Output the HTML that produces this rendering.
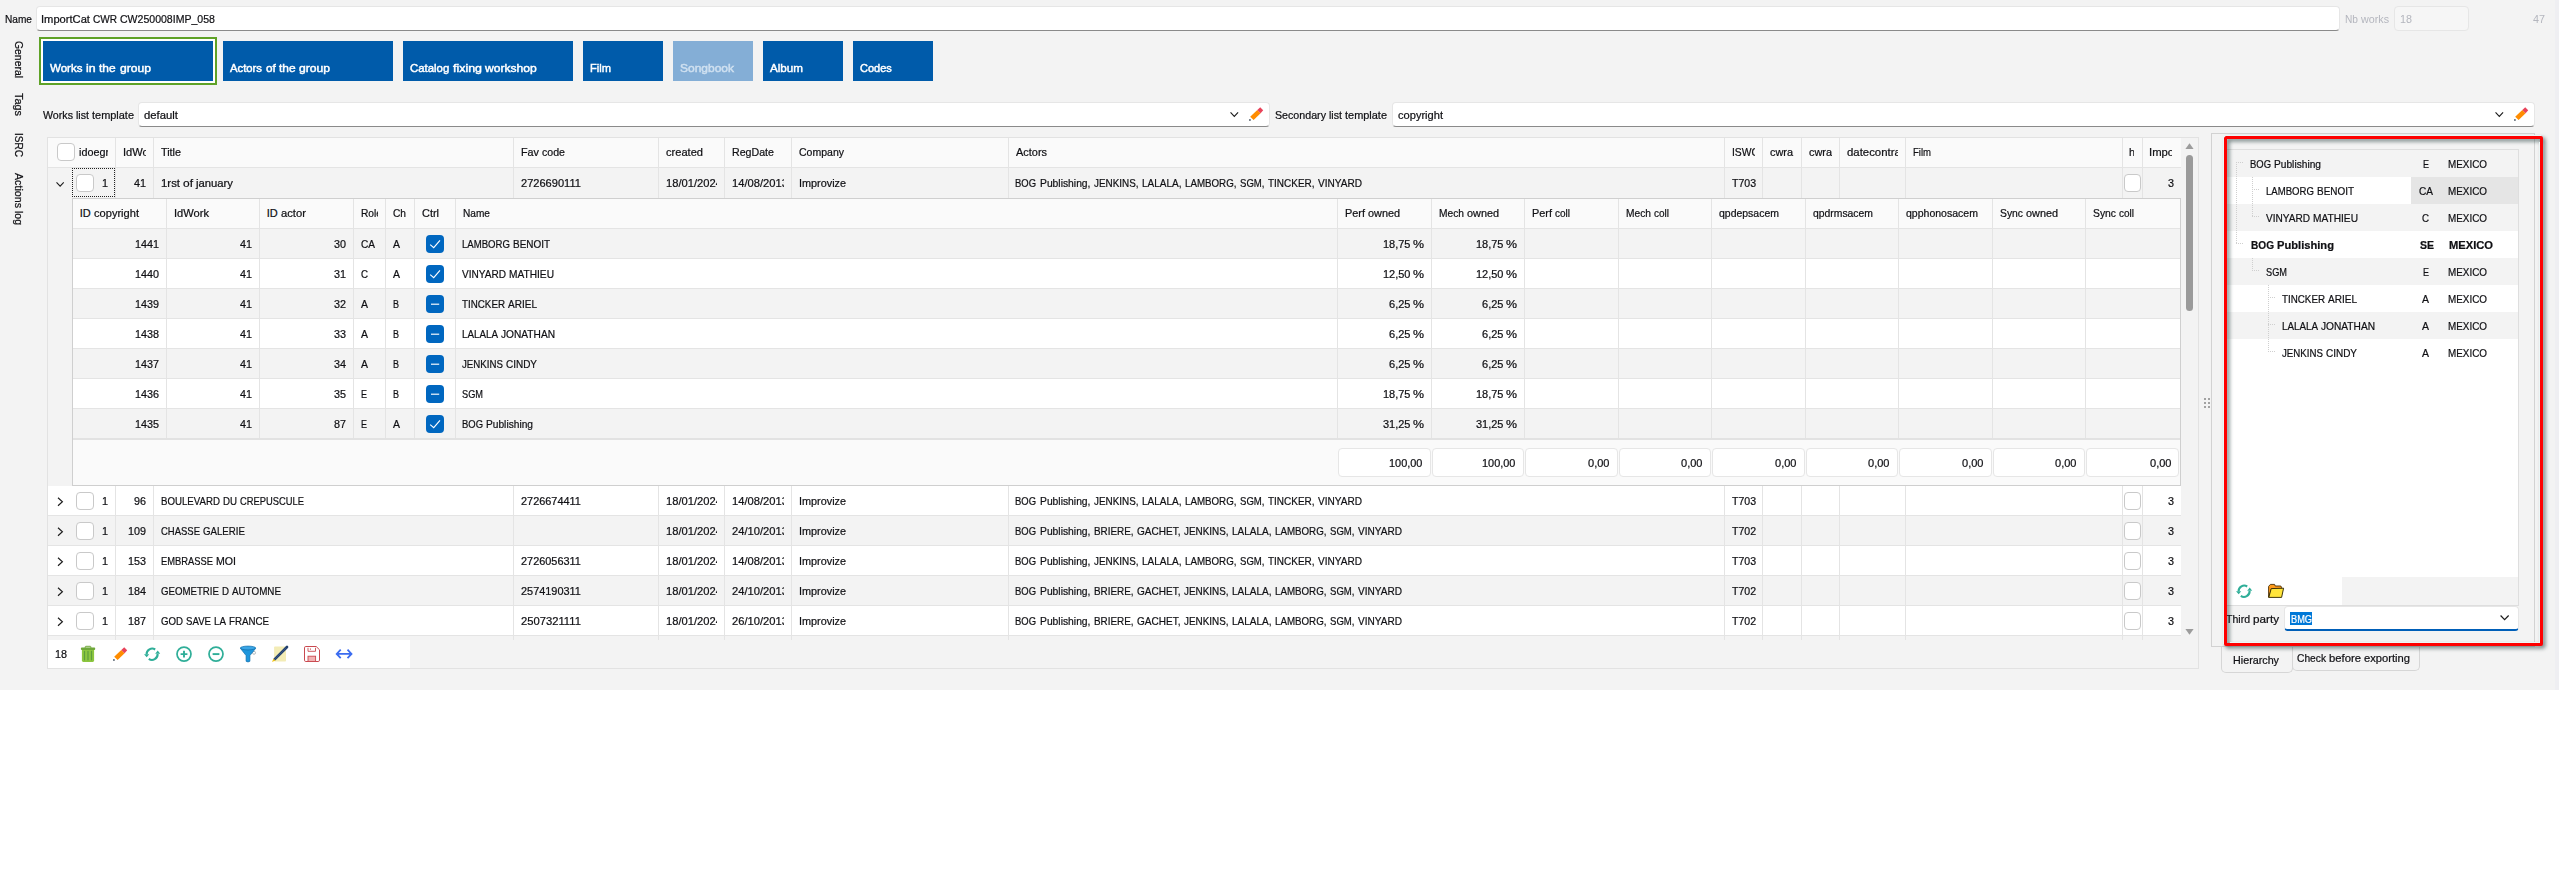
<!DOCTYPE html><html><head><meta charset="utf-8"><title>ImportCat</title><style>
*{box-sizing:border-box}
html,body{margin:0;padding:0}
body{width:2559px;height:869px;overflow:hidden;background:#fff;position:relative;font-family:"Liberation Sans",sans-serif;font-size:11px;color:#101014}
div,svg{position:absolute}
svg,symbol{overflow:visible}
.t{white-space:nowrap;height:13px;line-height:13px;font-size:11px;-webkit-text-stroke:0.22px}
.t i{display:inline-block;font-style:normal;height:13px;vertical-align:top;white-space:nowrap}
.t b{display:inline-block;font-weight:inherit;transform-origin:0 0;white-space:nowrap}
.cb{width:18px;height:18px;border:1px solid #c9c9c9;border-radius:4px;background:#fff}
.cbx{width:18px;height:18px;border-radius:4px;background:#0067c0}
.inp{background:#fff;border:1px solid #e6e6e6;border-bottom:1px solid #8a8a8a;border-radius:4px}
.vl{width:1px;background:#e4e4e4}
.hl{height:1px;background:#e4e4e4}
.btn{top:41px;height:40px;background:#005baa}
.fb{height:29px;top:448px;background:#fff;border:1px solid #e6e6e6;border-radius:4px}
</style></head><body>
<svg width="0" height="0" style="left:0;top:0"><defs>
<symbol id="pencil" viewBox="0 0 16 16"><polygon points="2.2,10.7 9.3,3.9 12.6,7.2 5.6,14" fill="#ff8c00"/><polygon points="9.3,3.9 12.2,1.2 15.2,4.2 12.6,7.2" fill="#e8435a"/><rect x="1" y="13.1" width="1.8" height="1.8" fill="#6e7882"/></symbol>
<symbol id="refresh" viewBox="0 0 16 16"><g fill="none" stroke="#2fae98" stroke-width="2.1"><path d="M11.2 3.5A5.6 5.6 0 0 0 2.6 8.4"/><path d="M4.8 12.9A5.6 5.6 0 0 0 13.6 8"/></g><polygon points="13.7,4.6 16.2,7.8 11.2,7.8" fill="#2fae98"/><polygon points="2.7,11.2 0,8.2 5.2,8.2" fill="#2fae98"/></symbol>
<symbol id="plus" viewBox="0 0 16 16"><circle cx="8" cy="8.1" r="7" fill="none" stroke="#2fae98" stroke-width="1.7"/><path d="M4.6 8.1H11.4M8 4.7V11.5" stroke="#2fae98" stroke-width="1.9" fill="none"/></symbol>
<symbol id="minus" viewBox="0 0 16 16"><circle cx="8" cy="8.1" r="7" fill="none" stroke="#2fae98" stroke-width="1.7"/><path d="M4.6 8.1H11.4" stroke="#2fae98" stroke-width="1.9" fill="none"/></symbol>
<symbol id="trash" viewBox="0 0 16 16"><rect x="5.2" y="0.3" width="5.7" height="2" rx="0.7" fill="none" stroke="#6fa83a" stroke-width="1"/><rect x="0.9" y="1.6" width="14.3" height="2.4" rx="0.9" fill="#6fa83a"/><path d="M1.9 4H14.1V14.6Q14.1 16 12.7 16H3.3Q1.9 16 1.9 14.6Z" fill="#8cc63f"/><path d="M4.5 5.3V13.8M8 5.3V13.8M11.5 5.3V13.8" stroke="#5e9e3c" stroke-width="1.2" stroke-linecap="round"/></symbol>
<symbol id="funnel" viewBox="0 0 16 16"><circle cx="14" cy="6.8" r="1.5" fill="none" stroke="#9aa0a6" stroke-width="0.7"/><path d="M0.4 2.3Q8 5.2 15.7 2.3L9.9 9.6V15.3Q8 16.6 6.1 15.3V9.6Z" fill="#1e96dc" stroke="#0f6fae" stroke-width="0.7"/><ellipse cx="8" cy="2" rx="7.7" ry="1.9" fill="#3aa6e6" stroke="#0f6fae" stroke-width="0.7"/></symbol>
<symbol id="note" viewBox="0 0 17 16"><rect x="2.1" y="0.4" width="11.9" height="15.2" rx="0.8" fill="#f3ecb6"/><path d="M2.6 13.4L15 1" stroke="#22406f" stroke-width="2.7" stroke-linecap="round"/><path d="M0 16L1.5 12.6L3.5 14.6Z" fill="#f0c419"/><path d="M2.2 13.7L13.8 2.1" stroke="#5a74a0" stroke-width="0.8" stroke-dasharray="0.7 0.7"/></symbol>
<symbol id="save" viewBox="0 0 16 16"><path d="M1.8 0.5H12.2L15.5 3.8V14.2Q15.5 15.5 14.2 15.5H1.8Q0.5 15.5 0.5 14.2V1.8Q0.5 0.5 1.8 0.5Z" fill="#fff" stroke="#c9484f" stroke-width="1"/><path d="M4 1.8V5.3H11.5V1.8" fill="none" stroke="#c9484f" stroke-width="0.9"/><path d="M6.4 2.4V3.8" stroke="#c9484f" stroke-width="0.9"/><rect x="4" y="10.2" width="7.6" height="5.3" fill="#f1b3b3" stroke="#c9484f" stroke-width="0.9"/></symbol>
<symbol id="lr" viewBox="0 0 16 16"><path d="M0.9 7.9H15.3M4.7 3.7L0.7 7.9L4.7 12.1M11.5 3.7L15.5 7.9L11.5 12.1" fill="none" stroke="#3b6cf0" stroke-width="1.8"/></symbol>
<symbol id="folder" viewBox="0 0 16 16"><path d="M0.6 14.2V3.4L2.4 1.4H6.6L7.2 3H12.8L13.6 4.6V6H3.4L0.8 14.4Z" fill="#ff9a1a" stroke="#4a2c00" stroke-width="0.9" stroke-linejoin="round"/><path d="M3.2 5.6L15.6 5.2L13.6 14.4H0.8Z" fill="#ffe53b" stroke="#2a2200" stroke-width="0.9" stroke-linejoin="round"/></symbol>
<symbol id="chk" viewBox="0 0 18 18"><path d="M4.2 9.6L7.7 12.7L14 5.3" fill="none" stroke="#fff" stroke-width="1.1"/></symbol>
<symbol id="dash" viewBox="0 0 18 18"><path d="M5 9.2H13.2" fill="none" stroke="#fff" stroke-width="1.15"/></symbol>
<symbol id="chev" viewBox="0 0 10 6"><path d="M0.6 0.5L4.8 4.9L9 0.5" fill="none" stroke="#1c1c1c" stroke-width="1.25"/></symbol>
<symbol id="chevr" viewBox="0 0 7 10"><path d="M1 0.8L5.6 4.9L1 9.1" fill="none" stroke="#1c1c1c" stroke-width="1.2"/></symbol>
</defs></svg>
<div style="left:0px;top:0px;width:2559px;height:690px;background:#f3f3f3;"></div>
<div style="left:2555px;top:0px;width:4px;height:690px;background:#efeff2;"></div>
<div class="t" style="left:4.6px;top:13px;"><i style="width:27px"><b style="transform:scaleX(0.920)">Name</b></i></div>
<div class="inp" style="left:36px;top:6px;width:2304px;height:25px"></div>
<div class="t" style="left:41px;top:13px;"><i style="width:49px"><b style="transform:scaleX(1.014)">ImportCat</b></i><i style="margin-left:3px;width:24px"><b style="transform:scaleX(0.914)">CWR</b></i><i style="margin-left:3px;width:95px"><b style="transform:scaleX(0.958)">CW250008IMP_058</b></i></div>
<div class="t" style="left:2345px;top:13px;color:#b4b6be;-webkit-text-stroke:0"><i style="width:13px"><b style="transform:scaleX(0.924)">Nb</b></i><i style="margin-left:3px;width:28px"><b style="transform:scaleX(0.975)">works</b></i></div>
<div style="left:2394px;top:6px;width:75px;height:25px;background:#f6f6f6;border:1px solid #e6e6e6;border-radius:4px"></div>
<div class="t" style="left:2400px;top:13px;color:#b4b6be;-webkit-text-stroke:0"><i style="width:12px"><b style="transform:scaleX(0.980)">18</b></i></div>
<div class="t" style="left:2533px;top:13px;color:#b4b6be;-webkit-text-stroke:0"><i style="width:12px"><b style="transform:scaleX(0.980)">47</b></i></div>
<div class="t" style="left:24.5px;top:40.5px;transform:rotate(90deg);transform-origin:0 0"><i style="width:37px"><b style="transform:scaleX(0.945)">General</b></i></div>
<div class="t" style="left:24.5px;top:93px;transform:rotate(90deg);transform-origin:0 0"><i style="width:23px"><b style="transform:scaleX(0.989)">Tags</b></i></div>
<div class="t" style="left:24.5px;top:132.5px;transform:rotate(90deg);transform-origin:0 0"><i style="width:24px"><b style="transform:scaleX(0.913)">ISRC</b></i></div>
<div class="t" style="left:24.5px;top:172.5px;transform:rotate(90deg);transform-origin:0 0"><i style="width:35px"><b style="transform:scaleX(0.970)">Actions</b></i><i style="margin-left:3px;width:14px"><b style="transform:scaleX(0.953)">log</b></i></div>
<div style="left:39px;top:37px;width:178px;height:48px;border:2px solid #5fa227;background:#fff"></div>
<div class="btn" style="left:43px;width:170px"></div>
<div class="t" style="left:50px;top:61.5px;color:#fff;font-size:11.5px;-webkit-text-stroke:0.45px"><b style="transform:scaleX(1.004)">Works</b></div>
<div class="t" style="left:86.3px;top:61.5px;color:#fff;font-size:11.5px;-webkit-text-stroke:0.45px"><b style="transform:scaleX(1.072)">in</b></div>
<div class="t" style="left:99.3px;top:61.5px;color:#fff;font-size:11.5px;-webkit-text-stroke:0.45px"><b style="transform:scaleX(1.040)">the</b></div>
<div class="t" style="left:119.6px;top:61.5px;color:#fff;font-size:11.5px;-webkit-text-stroke:0.45px"><b style="transform:scaleX(1.055)">group</b></div>
<div class="btn" style="left:223px;width:170px"></div>
<div class="t" style="left:230px;top:61.5px;color:#fff;font-size:11.5px;-webkit-text-stroke:0.45px"><b style="transform:scaleX(0.982)">Actors</b></div>
<div class="t" style="left:265.6px;top:61.5px;color:#fff;font-size:11.5px;-webkit-text-stroke:0.45px"><b style="transform:scaleX(1.023)">of</b></div>
<div class="t" style="left:279px;top:61.5px;color:#fff;font-size:11.5px;-webkit-text-stroke:0.45px"><b style="transform:scaleX(1.040)">the</b></div>
<div class="t" style="left:299.3px;top:61.5px;color:#fff;font-size:11.5px;-webkit-text-stroke:0.45px"><b style="transform:scaleX(1.055)">group</b></div>
<div class="btn" style="left:403px;width:170px"></div>
<div class="t" style="left:410.3px;top:61.5px;color:#fff;font-size:11.5px;-webkit-text-stroke:0.45px"><b style="transform:scaleX(0.989)">Catalog</b></div>
<div class="t" style="left:452.9px;top:61.5px;color:#fff;font-size:11.5px;-webkit-text-stroke:0.45px"><b style="transform:scaleX(1.080)">fixing</b></div>
<div class="t" style="left:485.2px;top:61.5px;color:#fff;font-size:11.5px;-webkit-text-stroke:0.45px"><b style="transform:scaleX(1.053)">workshop</b></div>
<div class="btn" style="left:583px;width:80px"></div>
<div class="t" style="left:590px;top:61.5px;color:#fff;font-size:11.5px;-webkit-text-stroke:0.45px"><b style="transform:scaleX(0.966)">Film</b></div>
<div class="btn" style="left:673px;width:80px;background:#84aed6"></div>
<div class="t" style="left:680.2px;top:61.5px;color:#cfe0f0;font-size:11.5px;-webkit-text-stroke:0.45px"><b style="transform:scaleX(1.043)">Songbook</b></div>
<div class="btn" style="left:763px;width:80px"></div>
<div class="t" style="left:770px;top:61.5px;color:#fff;font-size:11.5px;-webkit-text-stroke:0.45px"><b style="transform:scaleX(1.012)">Album</b></div>
<div class="btn" style="left:853px;width:80px"></div>
<div class="t" style="left:860.2px;top:61.5px;color:#fff;font-size:11.5px;-webkit-text-stroke:0.45px"><b style="transform:scaleX(0.957)">Codes</b></div>
<div class="t" style="left:42.5px;top:109px;"><i style="width:30px"><b style="transform:scaleX(0.969)">Works</b></i><i style="margin-left:3px;width:13px"><b style="transform:scaleX(0.967)">list</b></i><i style="margin-left:3px;width:42px"><b style="transform:scaleX(0.995)">template</b></i></div>
<div class="inp" style="left:138px;top:102px;width:1132px;height:25px"></div>
<div class="t" style="left:143.5px;top:109px;"><i style="width:34px"><b style="transform:scaleX(1.028)">default</b></i></div>
<svg style="left:1229.6px;top:111.6px" width="9" height="5.4"><use href="#chev"/></svg>
<svg style="left:1248px;top:106px" width="16" height="16"><use href="#pencil"/></svg>
<div class="t" style="left:1274.8px;top:109px;"><i style="width:51px"><b style="transform:scaleX(0.969)">Secondary</b></i><i style="margin-left:3px;width:13px"><b style="transform:scaleX(0.967)">list</b></i><i style="margin-left:3px;width:42px"><b style="transform:scaleX(0.995)">template</b></i></div>
<div class="inp" style="left:1392px;top:102px;width:1143px;height:25px"></div>
<div class="t" style="left:1397.5px;top:109px;"><i style="width:45px"><b style="transform:scaleX(1.008)">copyright</b></i></div>
<svg style="left:2494.5px;top:111.6px" width="9" height="5.4"><use href="#chev"/></svg>
<svg style="left:2513px;top:106px" width="16" height="16"><use href="#pencil"/></svg>
<div style="left:48px;top:138px;width:2133px;height:29px;background:#fafafa;"></div>
<div style="left:48px;top:486px;width:2133px;height:29px;background:#fff;"></div>
<div style="left:48px;top:516px;width:2133px;height:29px;background:#f3f3f3;"></div>
<div style="left:48px;top:546px;width:2133px;height:29px;background:#fff;"></div>
<div style="left:48px;top:576px;width:2133px;height:29px;background:#f3f3f3;"></div>
<div style="left:48px;top:606px;width:2133px;height:29px;background:#fff;"></div>
<div style="left:48px;top:167px;width:2133px;height:1px;background:#e4e4e4;"></div>
<div style="left:48px;top:515px;width:2133px;height:1px;background:#e4e4e4;"></div>
<div style="left:48px;top:545px;width:2133px;height:1px;background:#e4e4e4;"></div>
<div style="left:48px;top:575px;width:2133px;height:1px;background:#e4e4e4;"></div>
<div style="left:48px;top:605px;width:2133px;height:1px;background:#e4e4e4;"></div>
<div style="left:48px;top:635px;width:2133px;height:1px;background:#e4e4e4;"></div>
<div style="left:115px;top:138px;width:1px;height:60px;background:#e4e4e4;"></div>
<div style="left:115px;top:486px;width:1px;height:154px;background:#e4e4e4;"></div>
<div style="left:153px;top:138px;width:1px;height:60px;background:#e4e4e4;"></div>
<div style="left:153px;top:486px;width:1px;height:154px;background:#e4e4e4;"></div>
<div style="left:513px;top:138px;width:1px;height:60px;background:#e4e4e4;"></div>
<div style="left:513px;top:486px;width:1px;height:154px;background:#e4e4e4;"></div>
<div style="left:658px;top:138px;width:1px;height:60px;background:#e4e4e4;"></div>
<div style="left:658px;top:486px;width:1px;height:154px;background:#e4e4e4;"></div>
<div style="left:724px;top:138px;width:1px;height:60px;background:#e4e4e4;"></div>
<div style="left:724px;top:486px;width:1px;height:154px;background:#e4e4e4;"></div>
<div style="left:791px;top:138px;width:1px;height:60px;background:#e4e4e4;"></div>
<div style="left:791px;top:486px;width:1px;height:154px;background:#e4e4e4;"></div>
<div style="left:1008px;top:138px;width:1px;height:60px;background:#e4e4e4;"></div>
<div style="left:1008px;top:486px;width:1px;height:154px;background:#e4e4e4;"></div>
<div style="left:1724px;top:138px;width:1px;height:60px;background:#e4e4e4;"></div>
<div style="left:1724px;top:486px;width:1px;height:154px;background:#e4e4e4;"></div>
<div style="left:1762px;top:138px;width:1px;height:60px;background:#e4e4e4;"></div>
<div style="left:1762px;top:486px;width:1px;height:154px;background:#e4e4e4;"></div>
<div style="left:1801px;top:138px;width:1px;height:60px;background:#e4e4e4;"></div>
<div style="left:1801px;top:486px;width:1px;height:154px;background:#e4e4e4;"></div>
<div style="left:1839px;top:138px;width:1px;height:60px;background:#e4e4e4;"></div>
<div style="left:1839px;top:486px;width:1px;height:154px;background:#e4e4e4;"></div>
<div style="left:1905px;top:138px;width:1px;height:60px;background:#e4e4e4;"></div>
<div style="left:1905px;top:486px;width:1px;height:154px;background:#e4e4e4;"></div>
<div style="left:2122px;top:138px;width:1px;height:60px;background:#e4e4e4;"></div>
<div style="left:2122px;top:486px;width:1px;height:154px;background:#e4e4e4;"></div>
<div style="left:2142px;top:138px;width:1px;height:60px;background:#e4e4e4;"></div>
<div style="left:2142px;top:486px;width:1px;height:154px;background:#e4e4e4;"></div>
<div style="left:47px;top:137px;width:2152px;height:1px;background:#e2e2e2;"></div>
<div style="left:47px;top:668px;width:2152px;height:1px;background:#e2e2e2;"></div>
<div style="left:47px;top:137px;width:1px;height:532px;background:#e2e2e2;"></div>
<div style="left:2198px;top:137px;width:1px;height:532px;background:#e2e2e2;"></div>
<div class="cb" style="left:57px;top:143px"></div>
<div class="t" style="left:78.5px;top:146px;width:29.5px;overflow:hidden;"><i style="width:48px"><b style="transform:scaleX(0.980)">idoegroup</b></i></div>
<div class="t" style="left:122.8px;top:146px;width:23.2px;overflow:hidden;"><i style="width:35px"><b style="transform:scaleX(1.010)">IdWork</b></i></div>
<div class="t" style="left:160.8px;top:146px;width:345.2px;overflow:hidden;"><i style="width:20px"><b style="transform:scaleX(0.982)">Title</b></i></div>
<div class="t" style="left:520.8px;top:146px;width:130.2px;overflow:hidden;"><i style="width:18px"><b style="transform:scaleX(0.981)">Fav</b></i><i style="margin-left:3px;width:23px"><b style="transform:scaleX(0.963)">code</b></i></div>
<div class="t" style="left:665.8px;top:146px;width:51.2px;overflow:hidden;"><i style="width:37px"><b style="transform:scaleX(1.008)">created</b></i></div>
<div class="t" style="left:731.8px;top:146px;width:52.2px;overflow:hidden;"><i style="width:42px"><b style="transform:scaleX(0.967)">RegDate</b></i></div>
<div class="t" style="left:798.8px;top:146px;width:202.2px;overflow:hidden;"><i style="width:45px"><b style="transform:scaleX(0.956)">Company</b></i></div>
<div class="t" style="left:1015.8px;top:146px;width:701.2px;overflow:hidden;"><i style="width:31px"><b style="transform:scaleX(0.994)">Actors</b></i></div>
<div class="t" style="left:1731.8px;top:146px;width:23.2px;overflow:hidden;"><i style="width:27px"><b style="transform:scaleX(0.940)">ISWC</b></i></div>
<div class="t" style="left:1769.8px;top:146px;width:24.2px;overflow:hidden;"><i style="width:23px"><b style="transform:scaleX(0.991)">cwra</b></i></div>
<div class="t" style="left:1808.8px;top:146px;width:23.2px;overflow:hidden;"><i style="width:23px"><b style="transform:scaleX(0.991)">cwra</b></i></div>
<div class="t" style="left:1846.8px;top:146px;width:51.2px;overflow:hidden;"><i style="width:57px"><b style="transform:scaleX(1.035)">datecontrat</b></i></div>
<div class="t" style="left:1912.8px;top:146px;width:202.2px;overflow:hidden;"><i style="width:18px"><b style="transform:scaleX(0.867)">Film</b></i></div>
<div class="t" style="left:2129.3px;top:146px;width:4.4px;overflow:hidden;"><i style="width:6px"><b style="transform:scaleX(0.980)">h</b></i></div>
<div class="t" style="left:2149.3px;top:146px;width:23px;overflow:hidden;"><i style="width:32px"><b style="transform:scaleX(1.026)">Import</b></i></div>
<svg style="left:56px;top:181.6px" width="8.6" height="5.2"><use href="#chev"/></svg>
<div class="cb" style="left:76px;top:174px"></div>
<div class="t" style="left:102px;top:177px;"><i style="width:6px"><b style="transform:scaleX(0.980)">1</b></i></div>
<div class="t" style="left:134px;top:177px;"><i style="width:12px"><b style="transform:scaleX(0.980)">41</b></i></div>
<div class="t" style="left:161px;top:177px;"><i style="width:19px"><b style="transform:scaleX(1.036)">1rst</b></i><i style="margin-left:3px;width:10px"><b style="transform:scaleX(1.088)">of</b></i><i style="margin-left:3px;width:37px"><b style="transform:scaleX(1.025)">january</b></i></div>
<div class="t" style="left:521px;top:177px;"><i style="width:60px"><b style="transform:scaleX(1.006)">2726690111</b></i></div>
<div class="t" style="left:666.3px;top:177px;width:50.7px;overflow:hidden;"><i style="width:56px"><b style="transform:scaleX(1.016)">18/01/2024</b></i></div>
<div class="t" style="left:732.3px;top:177px;width:51.7px;overflow:hidden;"><i style="width:56px"><b style="transform:scaleX(1.016)">14/08/2013</b></i></div>
<div class="t" style="left:798.5px;top:177px;"><i style="width:47px"><b style="transform:scaleX(0.986)">Improvize</b></i></div>
<div class="t" style="left:1015.3px;top:177px;"><i style="width:21px"><b style="transform:scaleX(0.858)">BOG</b></i><i style="margin-left:3.5px;width:50.5px"><b style="transform:scaleX(0.938)">Publishing,</b></i><i style="margin-left:3.5px;width:44.5px"><b style="transform:scaleX(0.898)">JENKINS,</b></i><i style="margin-left:3.5px;width:39.5px"><b style="transform:scaleX(0.909)">LALALA,</b></i><i style="margin-left:3.5px;width:51.5px"><b style="transform:scaleX(0.886)">LAMBORG,</b></i><i style="margin-left:3.5px;width:24.5px"><b style="transform:scaleX(0.871)">SGM,</b></i><i style="margin-left:3.5px;width:46.5px"><b style="transform:scaleX(0.906)">TINCKER,</b></i><i style="margin-left:3.5px;width:44px"><b style="transform:scaleX(0.915)">VINYARD</b></i></div>
<div class="t" style="left:1731.5px;top:177px;width:24.1px;overflow:hidden;"><i style="width:30px"><b style="transform:scaleX(0.961)">T7030</b></i></div>
<div class="cb" style="left:2124px;top:174px;width:17px"></div>
<div class="t" style="left:2168px;top:177px;"><i style="width:6px"><b style="transform:scaleX(0.980)">3</b></i></div>
<svg style="left:56.8px;top:497.3px" width="6.8" height="9.6"><use href="#chevr"/></svg>
<div class="cb" style="left:76px;top:492px"></div>
<div class="t" style="left:102px;top:495px;"><i style="width:6px"><b style="transform:scaleX(0.980)">1</b></i></div>
<div class="t" style="left:134px;top:495px;"><i style="width:12px"><b style="transform:scaleX(0.980)">96</b></i></div>
<div class="t" style="left:161px;top:495px;"><i style="width:59px"><b style="transform:scaleX(0.880)">BOULEVARD</b></i><i style="margin-left:3px;width:14px"><b style="transform:scaleX(0.882)">DU</b></i><i style="margin-left:3px;width:64px"><b style="transform:scaleX(0.851)">CREPUSCULE</b></i></div>
<div class="t" style="left:521px;top:495px;"><i style="width:60px"><b style="transform:scaleX(0.993)">2726674411</b></i></div>
<div class="t" style="left:666.3px;top:495px;width:50.7px;overflow:hidden;"><i style="width:56px"><b style="transform:scaleX(1.016)">18/01/2024</b></i></div>
<div class="t" style="left:732.3px;top:495px;width:51.7px;overflow:hidden;"><i style="width:56px"><b style="transform:scaleX(1.016)">14/08/2013</b></i></div>
<div class="t" style="left:798.5px;top:495px;"><i style="width:47px"><b style="transform:scaleX(0.986)">Improvize</b></i></div>
<div class="t" style="left:1015.3px;top:495px;"><i style="width:21px"><b style="transform:scaleX(0.858)">BOG</b></i><i style="margin-left:3.5px;width:50.5px"><b style="transform:scaleX(0.938)">Publishing,</b></i><i style="margin-left:3.5px;width:44.5px"><b style="transform:scaleX(0.898)">JENKINS,</b></i><i style="margin-left:3.5px;width:39.5px"><b style="transform:scaleX(0.909)">LALALA,</b></i><i style="margin-left:3.5px;width:51.5px"><b style="transform:scaleX(0.886)">LAMBORG,</b></i><i style="margin-left:3.5px;width:24.5px"><b style="transform:scaleX(0.871)">SGM,</b></i><i style="margin-left:3.5px;width:46.5px"><b style="transform:scaleX(0.906)">TINCKER,</b></i><i style="margin-left:3.5px;width:44px"><b style="transform:scaleX(0.915)">VINYARD</b></i></div>
<div class="t" style="left:1731.5px;top:495px;width:24.1px;overflow:hidden;"><i style="width:30px"><b style="transform:scaleX(0.961)">T7030</b></i></div>
<div class="cb" style="left:2124px;top:492px;width:17px"></div>
<div class="t" style="left:2168px;top:495px;"><i style="width:6px"><b style="transform:scaleX(0.980)">3</b></i></div>
<svg style="left:56.8px;top:527.3px" width="6.8" height="9.6"><use href="#chevr"/></svg>
<div class="cb" style="left:76px;top:522px"></div>
<div class="t" style="left:102px;top:525px;"><i style="width:6px"><b style="transform:scaleX(0.980)">1</b></i></div>
<div class="t" style="left:128px;top:525px;"><i style="width:18px"><b style="transform:scaleX(0.980)">109</b></i></div>
<div class="t" style="left:161px;top:525px;"><i style="width:39px"><b style="transform:scaleX(0.862)">CHASSE</b></i><i style="margin-left:3px;width:42px"><b style="transform:scaleX(0.880)">GALERIE</b></i></div>
<div class="t" style="left:666.3px;top:525px;width:50.7px;overflow:hidden;"><i style="width:56px"><b style="transform:scaleX(1.016)">18/01/2024</b></i></div>
<div class="t" style="left:732.3px;top:525px;width:51.7px;overflow:hidden;"><i style="width:56px"><b style="transform:scaleX(1.016)">24/10/2013</b></i></div>
<div class="t" style="left:798.5px;top:525px;"><i style="width:47px"><b style="transform:scaleX(0.986)">Improvize</b></i></div>
<div class="t" style="left:1015.3px;top:525px;"><i style="width:21px"><b style="transform:scaleX(0.858)">BOG</b></i><i style="margin-left:3.5px;width:50.5px"><b style="transform:scaleX(0.938)">Publishing,</b></i><i style="margin-left:3.5px;width:39.5px"><b style="transform:scaleX(0.897)">BRIERE,</b></i><i style="margin-left:3.5px;width:43.5px"><b style="transform:scaleX(0.912)">GACHET,</b></i><i style="margin-left:3.5px;width:44.5px"><b style="transform:scaleX(0.898)">JENKINS,</b></i><i style="margin-left:3.5px;width:39.5px"><b style="transform:scaleX(0.909)">LALALA,</b></i><i style="margin-left:3.5px;width:51.5px"><b style="transform:scaleX(0.886)">LAMBORG,</b></i><i style="margin-left:3.5px;width:24.5px"><b style="transform:scaleX(0.871)">SGM,</b></i><i style="margin-left:3.5px;width:44px"><b style="transform:scaleX(0.915)">VINYARD</b></i></div>
<div class="t" style="left:1731.5px;top:525px;width:24.1px;overflow:hidden;"><i style="width:30px"><b style="transform:scaleX(0.961)">T7020</b></i></div>
<div class="cb" style="left:2124px;top:522px;width:17px"></div>
<div class="t" style="left:2168px;top:525px;"><i style="width:6px"><b style="transform:scaleX(0.980)">3</b></i></div>
<svg style="left:56.8px;top:557.3px" width="6.8" height="9.6"><use href="#chevr"/></svg>
<div class="cb" style="left:76px;top:552px"></div>
<div class="t" style="left:102px;top:555px;"><i style="width:6px"><b style="transform:scaleX(0.980)">1</b></i></div>
<div class="t" style="left:128px;top:555px;"><i style="width:18px"><b style="transform:scaleX(0.980)">153</b></i></div>
<div class="t" style="left:161px;top:555px;"><i style="width:52px"><b style="transform:scaleX(0.850)">EMBRASSE</b></i><i style="margin-left:3px;width:20px"><b style="transform:scaleX(0.962)">MOI</b></i></div>
<div class="t" style="left:521px;top:555px;"><i style="width:60px"><b style="transform:scaleX(0.993)">2726056311</b></i></div>
<div class="t" style="left:666.3px;top:555px;width:50.7px;overflow:hidden;"><i style="width:56px"><b style="transform:scaleX(1.016)">18/01/2024</b></i></div>
<div class="t" style="left:732.3px;top:555px;width:51.7px;overflow:hidden;"><i style="width:56px"><b style="transform:scaleX(1.016)">14/08/2013</b></i></div>
<div class="t" style="left:798.5px;top:555px;"><i style="width:47px"><b style="transform:scaleX(0.986)">Improvize</b></i></div>
<div class="t" style="left:1015.3px;top:555px;"><i style="width:21px"><b style="transform:scaleX(0.858)">BOG</b></i><i style="margin-left:3.5px;width:50.5px"><b style="transform:scaleX(0.938)">Publishing,</b></i><i style="margin-left:3.5px;width:44.5px"><b style="transform:scaleX(0.898)">JENKINS,</b></i><i style="margin-left:3.5px;width:39.5px"><b style="transform:scaleX(0.909)">LALALA,</b></i><i style="margin-left:3.5px;width:51.5px"><b style="transform:scaleX(0.886)">LAMBORG,</b></i><i style="margin-left:3.5px;width:24.5px"><b style="transform:scaleX(0.871)">SGM,</b></i><i style="margin-left:3.5px;width:46.5px"><b style="transform:scaleX(0.906)">TINCKER,</b></i><i style="margin-left:3.5px;width:44px"><b style="transform:scaleX(0.915)">VINYARD</b></i></div>
<div class="t" style="left:1731.5px;top:555px;width:24.1px;overflow:hidden;"><i style="width:30px"><b style="transform:scaleX(0.961)">T7030</b></i></div>
<div class="cb" style="left:2124px;top:552px;width:17px"></div>
<div class="t" style="left:2168px;top:555px;"><i style="width:6px"><b style="transform:scaleX(0.980)">3</b></i></div>
<svg style="left:56.8px;top:587.3px" width="6.8" height="9.6"><use href="#chevr"/></svg>
<div class="cb" style="left:76px;top:582px"></div>
<div class="t" style="left:102px;top:585px;"><i style="width:6px"><b style="transform:scaleX(0.980)">1</b></i></div>
<div class="t" style="left:128px;top:585px;"><i style="width:18px"><b style="transform:scaleX(0.980)">184</b></i></div>
<div class="t" style="left:161px;top:585px;"><i style="width:58px"><b style="transform:scaleX(0.878)">GEOMETRIE</b></i><i style="margin-left:3px;width:7px"><b style="transform:scaleX(0.882)">D</b></i><i style="margin-left:3px;width:49px"><b style="transform:scaleX(0.894)">AUTOMNE</b></i></div>
<div class="t" style="left:521px;top:585px;"><i style="width:60px"><b style="transform:scaleX(0.993)">2574190311</b></i></div>
<div class="t" style="left:666.3px;top:585px;width:50.7px;overflow:hidden;"><i style="width:56px"><b style="transform:scaleX(1.016)">18/01/2024</b></i></div>
<div class="t" style="left:732.3px;top:585px;width:51.7px;overflow:hidden;"><i style="width:56px"><b style="transform:scaleX(1.016)">24/10/2013</b></i></div>
<div class="t" style="left:798.5px;top:585px;"><i style="width:47px"><b style="transform:scaleX(0.986)">Improvize</b></i></div>
<div class="t" style="left:1015.3px;top:585px;"><i style="width:21px"><b style="transform:scaleX(0.858)">BOG</b></i><i style="margin-left:3.5px;width:50.5px"><b style="transform:scaleX(0.938)">Publishing,</b></i><i style="margin-left:3.5px;width:39.5px"><b style="transform:scaleX(0.897)">BRIERE,</b></i><i style="margin-left:3.5px;width:43.5px"><b style="transform:scaleX(0.912)">GACHET,</b></i><i style="margin-left:3.5px;width:44.5px"><b style="transform:scaleX(0.898)">JENKINS,</b></i><i style="margin-left:3.5px;width:39.5px"><b style="transform:scaleX(0.909)">LALALA,</b></i><i style="margin-left:3.5px;width:51.5px"><b style="transform:scaleX(0.886)">LAMBORG,</b></i><i style="margin-left:3.5px;width:24.5px"><b style="transform:scaleX(0.871)">SGM,</b></i><i style="margin-left:3.5px;width:44px"><b style="transform:scaleX(0.915)">VINYARD</b></i></div>
<div class="t" style="left:1731.5px;top:585px;width:24.1px;overflow:hidden;"><i style="width:30px"><b style="transform:scaleX(0.961)">T7020</b></i></div>
<div class="cb" style="left:2124px;top:582px;width:17px"></div>
<div class="t" style="left:2168px;top:585px;"><i style="width:6px"><b style="transform:scaleX(0.980)">3</b></i></div>
<svg style="left:56.8px;top:617.3px" width="6.8" height="9.6"><use href="#chevr"/></svg>
<div class="cb" style="left:76px;top:612px"></div>
<div class="t" style="left:102px;top:615px;"><i style="width:6px"><b style="transform:scaleX(0.980)">1</b></i></div>
<div class="t" style="left:128px;top:615px;"><i style="width:18px"><b style="transform:scaleX(0.980)">187</b></i></div>
<div class="t" style="left:161px;top:615px;"><i style="width:22px"><b style="transform:scaleX(0.878)">GOD</b></i><i style="margin-left:3px;width:25px"><b style="transform:scaleX(0.875)">SAVE</b></i><i style="margin-left:3px;width:12px"><b style="transform:scaleX(0.891)">LA</b></i><i style="margin-left:3px;width:40px"><b style="transform:scaleX(0.885)">FRANCE</b></i></div>
<div class="t" style="left:521px;top:615px;"><i style="width:60px"><b style="transform:scaleX(1.020)">2507321111</b></i></div>
<div class="t" style="left:666.3px;top:615px;width:50.7px;overflow:hidden;"><i style="width:56px"><b style="transform:scaleX(1.016)">18/01/2024</b></i></div>
<div class="t" style="left:732.3px;top:615px;width:51.7px;overflow:hidden;"><i style="width:56px"><b style="transform:scaleX(1.016)">26/10/2013</b></i></div>
<div class="t" style="left:798.5px;top:615px;"><i style="width:47px"><b style="transform:scaleX(0.986)">Improvize</b></i></div>
<div class="t" style="left:1015.3px;top:615px;"><i style="width:21px"><b style="transform:scaleX(0.858)">BOG</b></i><i style="margin-left:3.5px;width:50.5px"><b style="transform:scaleX(0.938)">Publishing,</b></i><i style="margin-left:3.5px;width:39.5px"><b style="transform:scaleX(0.897)">BRIERE,</b></i><i style="margin-left:3.5px;width:43.5px"><b style="transform:scaleX(0.912)">GACHET,</b></i><i style="margin-left:3.5px;width:44.5px"><b style="transform:scaleX(0.898)">JENKINS,</b></i><i style="margin-left:3.5px;width:39.5px"><b style="transform:scaleX(0.909)">LALALA,</b></i><i style="margin-left:3.5px;width:51.5px"><b style="transform:scaleX(0.886)">LAMBORG,</b></i><i style="margin-left:3.5px;width:24.5px"><b style="transform:scaleX(0.871)">SGM,</b></i><i style="margin-left:3.5px;width:44px"><b style="transform:scaleX(0.915)">VINYARD</b></i></div>
<div class="t" style="left:1731.5px;top:615px;width:24.1px;overflow:hidden;"><i style="width:30px"><b style="transform:scaleX(0.961)">T7020</b></i></div>
<div class="cb" style="left:2124px;top:612px;width:17px"></div>
<div class="t" style="left:2168px;top:615px;"><i style="width:6px"><b style="transform:scaleX(0.980)">3</b></i></div>
<div style="left:72px;top:168px;width:43px;height:29px;border:1px dotted #222"></div>
<div style="left:73px;top:199px;width:2107px;height:29px;background:#fafafa;"></div>
<div style="left:73px;top:229px;width:2107px;height:29px;background:#f3f3f3;"></div>
<div style="left:73px;top:259px;width:2107px;height:29px;background:#fff;"></div>
<div style="left:73px;top:289px;width:2107px;height:29px;background:#f3f3f3;"></div>
<div style="left:73px;top:319px;width:2107px;height:29px;background:#fff;"></div>
<div style="left:73px;top:349px;width:2107px;height:29px;background:#f3f3f3;"></div>
<div style="left:73px;top:379px;width:2107px;height:29px;background:#fff;"></div>
<div style="left:73px;top:409px;width:2107px;height:29px;background:#f3f3f3;"></div>
<div style="left:73px;top:440px;width:2107px;height:45px;background:#fafafa;"></div>
<div style="left:73px;top:228px;width:2107px;height:1px;background:#e4e4e4;"></div>
<div style="left:73px;top:258px;width:2107px;height:1px;background:#e4e4e4;"></div>
<div style="left:73px;top:288px;width:2107px;height:1px;background:#e4e4e4;"></div>
<div style="left:73px;top:318px;width:2107px;height:1px;background:#e4e4e4;"></div>
<div style="left:73px;top:348px;width:2107px;height:1px;background:#e4e4e4;"></div>
<div style="left:73px;top:378px;width:2107px;height:1px;background:#e4e4e4;"></div>
<div style="left:73px;top:408px;width:2107px;height:1px;background:#e4e4e4;"></div>
<div style="left:73px;top:438px;width:2107px;height:1px;background:#e4e4e4;"></div>
<div style="left:73px;top:438px;width:2107px;height:2px;background:#e2e2e2;"></div>
<div style="left:166px;top:199px;width:1px;height:239px;background:#e4e4e4;"></div>
<div style="left:259px;top:199px;width:1px;height:239px;background:#e4e4e4;"></div>
<div style="left:353px;top:199px;width:1px;height:239px;background:#e4e4e4;"></div>
<div style="left:385px;top:199px;width:1px;height:239px;background:#e4e4e4;"></div>
<div style="left:414px;top:199px;width:1px;height:239px;background:#e4e4e4;"></div>
<div style="left:455px;top:199px;width:1px;height:239px;background:#e4e4e4;"></div>
<div style="left:1337px;top:199px;width:1px;height:239px;background:#e4e4e4;"></div>
<div style="left:1431px;top:199px;width:1px;height:239px;background:#e4e4e4;"></div>
<div style="left:1524px;top:199px;width:1px;height:239px;background:#e4e4e4;"></div>
<div style="left:1618px;top:199px;width:1px;height:239px;background:#e4e4e4;"></div>
<div style="left:1711px;top:199px;width:1px;height:239px;background:#e4e4e4;"></div>
<div style="left:1805px;top:199px;width:1px;height:239px;background:#e4e4e4;"></div>
<div style="left:1898px;top:199px;width:1px;height:239px;background:#e4e4e4;"></div>
<div style="left:1992px;top:199px;width:1px;height:239px;background:#e4e4e4;"></div>
<div style="left:2085px;top:199px;width:1px;height:239px;background:#e4e4e4;"></div>
<div style="left:72px;top:198px;width:2109px;height:1px;background:#cfcfcf;"></div>
<div style="left:72px;top:485px;width:2109px;height:1px;background:#cfcfcf;"></div>
<div style="left:72px;top:198px;width:1px;height:288px;background:#cfcfcf;"></div>
<div style="left:2180px;top:198px;width:1px;height:288px;background:#cfcfcf;"></div>
<div class="t" style="left:79.8px;top:207px;width:79.2px;overflow:hidden;"><i style="width:11px"><b style="transform:scaleX(1.000)">ID</b></i><i style="margin-left:3px;width:45px"><b style="transform:scaleX(1.008)">copyright</b></i></div>
<div class="t" style="left:173.8px;top:207px;width:78.2px;overflow:hidden;"><i style="width:35px"><b style="transform:scaleX(1.010)">IdWork</b></i></div>
<div class="t" style="left:266.8px;top:207px;width:79.2px;overflow:hidden;"><i style="width:11px"><b style="transform:scaleX(1.000)">ID</b></i><i style="margin-left:3px;width:25px"><b style="transform:scaleX(1.022)">actor</b></i></div>
<div class="t" style="left:360.8px;top:207px;width:17.2px;overflow:hidden;"><i style="width:21px"><b style="transform:scaleX(0.928)">Role</b></i></div>
<div class="t" style="left:392.8px;top:207px;width:14.2px;overflow:hidden;"><i style="width:13px"><b style="transform:scaleX(0.924)">Ch</b></i></div>
<div class="t" style="left:421.8px;top:207px;width:26.2px;overflow:hidden;"><i style="width:17px"><b style="transform:scaleX(0.995)">Ctrl</b></i></div>
<div class="t" style="left:462.8px;top:207px;width:867.2px;overflow:hidden;"><i style="width:27px"><b style="transform:scaleX(0.920)">Name</b></i></div>
<div class="t" style="left:1344.8px;top:207px;width:79.2px;overflow:hidden;"><i style="width:20px"><b style="transform:scaleX(0.991)">Perf</b></i><i style="margin-left:3px;width:32px"><b style="transform:scaleX(0.987)">owned</b></i></div>
<div class="t" style="left:1438.8px;top:207px;width:78.2px;overflow:hidden;"><i style="width:25px"><b style="transform:scaleX(0.929)">Mech</b></i><i style="margin-left:3px;width:32px"><b style="transform:scaleX(0.987)">owned</b></i></div>
<div class="t" style="left:1531.8px;top:207px;width:79.2px;overflow:hidden;"><i style="width:20px"><b style="transform:scaleX(0.991)">Perf</b></i><i style="margin-left:3px;width:15px"><b style="transform:scaleX(0.909)">coll</b></i></div>
<div class="t" style="left:1625.8px;top:207px;width:78.2px;overflow:hidden;"><i style="width:25px"><b style="transform:scaleX(0.929)">Mech</b></i><i style="margin-left:3px;width:15px"><b style="transform:scaleX(0.909)">coll</b></i></div>
<div class="t" style="left:1718.8px;top:207px;width:79.2px;overflow:hidden;"><i style="width:60px"><b style="transform:scaleX(0.952)">qpdepsacem</b></i></div>
<div class="t" style="left:1812.8px;top:207px;width:78.2px;overflow:hidden;"><i style="width:60px"><b style="transform:scaleX(0.943)">qpdrmsacem</b></i></div>
<div class="t" style="left:1905.8px;top:207px;width:79.2px;overflow:hidden;"><i style="width:72px"><b style="transform:scaleX(0.956)">qpphonosacem</b></i></div>
<div class="t" style="left:1999.8px;top:207px;width:78.2px;overflow:hidden;"><i style="width:23px"><b style="transform:scaleX(0.940)">Sync</b></i><i style="margin-left:3px;width:32px"><b style="transform:scaleX(0.987)">owned</b></i></div>
<div class="t" style="left:2092.8px;top:207px;width:80.2px;overflow:hidden;"><i style="width:23px"><b style="transform:scaleX(0.940)">Sync</b></i><i style="margin-left:3px;width:15px"><b style="transform:scaleX(0.909)">coll</b></i></div>
<div class="t" style="left:135px;top:238px;"><i style="width:24px"><b style="transform:scaleX(0.980)">1441</b></i></div>
<div class="t" style="left:240px;top:238px;"><i style="width:12px"><b style="transform:scaleX(0.980)">41</b></i></div>
<div class="t" style="left:334px;top:238px;"><i style="width:12px"><b style="transform:scaleX(0.980)">30</b></i></div>
<div class="t" style="left:360.5px;top:238px;"><i style="width:14px"><b style="transform:scaleX(0.916)">CA</b></i></div>
<div class="t" style="left:392.5px;top:238px;"><i style="width:7px"><b style="transform:scaleX(0.953)">A</b></i></div>
<div class="cbx" style="left:426px;top:235px"></div>
<svg style="left:426px;top:235px" width="18" height="18"><use href="#chk"/></svg>
<div class="t" style="left:462.3px;top:238px;"><i style="width:48px"><b style="transform:scaleX(0.872)">LAMBORG</b></i><i style="margin-left:3px;width:37px"><b style="transform:scaleX(0.903)">BENOIT</b></i></div>
<div class="t" style="left:1382.5px;top:238px;"><i style="width:27.5px"><b style="transform:scaleX(0.998)">18,75</b></i><i style="margin-left:3px;width:11px"><b style="transform:scaleX(1.125)">%</b></i></div>
<div class="t" style="left:1475.5px;top:238px;"><i style="width:27.5px"><b style="transform:scaleX(0.998)">18,75</b></i><i style="margin-left:3px;width:11px"><b style="transform:scaleX(1.125)">%</b></i></div>
<div class="t" style="left:135px;top:268px;"><i style="width:24px"><b style="transform:scaleX(0.980)">1440</b></i></div>
<div class="t" style="left:240px;top:268px;"><i style="width:12px"><b style="transform:scaleX(0.980)">41</b></i></div>
<div class="t" style="left:334px;top:268px;"><i style="width:12px"><b style="transform:scaleX(0.980)">31</b></i></div>
<div class="t" style="left:360.5px;top:268px;"><i style="width:7px"><b style="transform:scaleX(0.882)">C</b></i></div>
<div class="t" style="left:392.5px;top:268px;"><i style="width:7px"><b style="transform:scaleX(0.953)">A</b></i></div>
<div class="cbx" style="left:426px;top:265px"></div>
<svg style="left:426px;top:265px" width="18" height="18"><use href="#chk"/></svg>
<div class="t" style="left:462.3px;top:268px;"><i style="width:44px"><b style="transform:scaleX(0.915)">VINYARD</b></i><i style="margin-left:3px;width:45px"><b style="transform:scaleX(0.924)">MATHIEU</b></i></div>
<div class="t" style="left:1382.5px;top:268px;"><i style="width:27.5px"><b style="transform:scaleX(0.998)">12,50</b></i><i style="margin-left:3px;width:11px"><b style="transform:scaleX(1.125)">%</b></i></div>
<div class="t" style="left:1475.5px;top:268px;"><i style="width:27.5px"><b style="transform:scaleX(0.998)">12,50</b></i><i style="margin-left:3px;width:11px"><b style="transform:scaleX(1.125)">%</b></i></div>
<div class="t" style="left:135px;top:298px;"><i style="width:24px"><b style="transform:scaleX(0.980)">1439</b></i></div>
<div class="t" style="left:240px;top:298px;"><i style="width:12px"><b style="transform:scaleX(0.980)">41</b></i></div>
<div class="t" style="left:334px;top:298px;"><i style="width:12px"><b style="transform:scaleX(0.980)">32</b></i></div>
<div class="t" style="left:360.5px;top:298px;"><i style="width:7px"><b style="transform:scaleX(0.953)">A</b></i></div>
<div class="t" style="left:392.5px;top:298px;"><i style="width:6px"><b style="transform:scaleX(0.817)">B</b></i></div>
<div class="cbx" style="left:426px;top:295px"></div>
<svg style="left:426px;top:295px" width="18" height="18"><use href="#dash"/></svg>
<div class="t" style="left:462.3px;top:298px;"><i style="width:43px"><b style="transform:scaleX(0.891)">TINCKER</b></i><i style="margin-left:3px;width:29px"><b style="transform:scaleX(0.912)">ARIEL</b></i></div>
<div class="t" style="left:1388.5px;top:298px;"><i style="width:21.5px"><b style="transform:scaleX(1.003)">6,25</b></i><i style="margin-left:3px;width:11px"><b style="transform:scaleX(1.125)">%</b></i></div>
<div class="t" style="left:1481.5px;top:298px;"><i style="width:21.5px"><b style="transform:scaleX(1.003)">6,25</b></i><i style="margin-left:3px;width:11px"><b style="transform:scaleX(1.125)">%</b></i></div>
<div class="t" style="left:135px;top:328px;"><i style="width:24px"><b style="transform:scaleX(0.980)">1438</b></i></div>
<div class="t" style="left:240px;top:328px;"><i style="width:12px"><b style="transform:scaleX(0.980)">41</b></i></div>
<div class="t" style="left:334px;top:328px;"><i style="width:12px"><b style="transform:scaleX(0.980)">33</b></i></div>
<div class="t" style="left:360.5px;top:328px;"><i style="width:7px"><b style="transform:scaleX(0.953)">A</b></i></div>
<div class="t" style="left:392.5px;top:328px;"><i style="width:6px"><b style="transform:scaleX(0.817)">B</b></i></div>
<div class="cbx" style="left:426px;top:325px"></div>
<svg style="left:426px;top:325px" width="18" height="18"><use href="#dash"/></svg>
<div class="t" style="left:462.3px;top:328px;"><i style="width:36px"><b style="transform:scaleX(0.891)">LALALA</b></i><i style="margin-left:3px;width:54px"><b style="transform:scaleX(0.924)">JONATHAN</b></i></div>
<div class="t" style="left:1388.5px;top:328px;"><i style="width:21.5px"><b style="transform:scaleX(1.003)">6,25</b></i><i style="margin-left:3px;width:11px"><b style="transform:scaleX(1.125)">%</b></i></div>
<div class="t" style="left:1481.5px;top:328px;"><i style="width:21.5px"><b style="transform:scaleX(1.003)">6,25</b></i><i style="margin-left:3px;width:11px"><b style="transform:scaleX(1.125)">%</b></i></div>
<div class="t" style="left:135px;top:358px;"><i style="width:24px"><b style="transform:scaleX(0.980)">1437</b></i></div>
<div class="t" style="left:240px;top:358px;"><i style="width:12px"><b style="transform:scaleX(0.980)">41</b></i></div>
<div class="t" style="left:334px;top:358px;"><i style="width:12px"><b style="transform:scaleX(0.980)">34</b></i></div>
<div class="t" style="left:360.5px;top:358px;"><i style="width:7px"><b style="transform:scaleX(0.953)">A</b></i></div>
<div class="t" style="left:392.5px;top:358px;"><i style="width:6px"><b style="transform:scaleX(0.817)">B</b></i></div>
<div class="cbx" style="left:426px;top:355px"></div>
<svg style="left:426px;top:355px" width="18" height="18"><use href="#dash"/></svg>
<div class="t" style="left:462.3px;top:358px;"><i style="width:41px"><b style="transform:scaleX(0.882)">JENKINS</b></i><i style="margin-left:3px;width:31px"><b style="transform:scaleX(0.906)">CINDY</b></i></div>
<div class="t" style="left:1388.5px;top:358px;"><i style="width:21.5px"><b style="transform:scaleX(1.003)">6,25</b></i><i style="margin-left:3px;width:11px"><b style="transform:scaleX(1.125)">%</b></i></div>
<div class="t" style="left:1481.5px;top:358px;"><i style="width:21.5px"><b style="transform:scaleX(1.003)">6,25</b></i><i style="margin-left:3px;width:11px"><b style="transform:scaleX(1.125)">%</b></i></div>
<div class="t" style="left:135px;top:388px;"><i style="width:24px"><b style="transform:scaleX(0.980)">1436</b></i></div>
<div class="t" style="left:240px;top:388px;"><i style="width:12px"><b style="transform:scaleX(0.980)">41</b></i></div>
<div class="t" style="left:334px;top:388px;"><i style="width:12px"><b style="transform:scaleX(0.980)">35</b></i></div>
<div class="t" style="left:360.5px;top:388px;"><i style="width:6px"><b style="transform:scaleX(0.817)">E</b></i></div>
<div class="t" style="left:392.5px;top:388px;"><i style="width:6px"><b style="transform:scaleX(0.817)">B</b></i></div>
<div class="cbx" style="left:426px;top:385px"></div>
<svg style="left:426px;top:385px" width="18" height="18"><use href="#dash"/></svg>
<div class="t" style="left:462.3px;top:388px;"><i style="width:21px"><b style="transform:scaleX(0.838)">SGM</b></i></div>
<div class="t" style="left:1382.5px;top:388px;"><i style="width:27.5px"><b style="transform:scaleX(0.998)">18,75</b></i><i style="margin-left:3px;width:11px"><b style="transform:scaleX(1.125)">%</b></i></div>
<div class="t" style="left:1475.5px;top:388px;"><i style="width:27.5px"><b style="transform:scaleX(0.998)">18,75</b></i><i style="margin-left:3px;width:11px"><b style="transform:scaleX(1.125)">%</b></i></div>
<div class="t" style="left:135px;top:418px;"><i style="width:24px"><b style="transform:scaleX(0.980)">1435</b></i></div>
<div class="t" style="left:240px;top:418px;"><i style="width:12px"><b style="transform:scaleX(0.980)">41</b></i></div>
<div class="t" style="left:334px;top:418px;"><i style="width:12px"><b style="transform:scaleX(0.980)">87</b></i></div>
<div class="t" style="left:360.5px;top:418px;"><i style="width:6px"><b style="transform:scaleX(0.817)">E</b></i></div>
<div class="t" style="left:392.5px;top:418px;"><i style="width:7px"><b style="transform:scaleX(0.953)">A</b></i></div>
<div class="cbx" style="left:426px;top:415px"></div>
<svg style="left:426px;top:415px" width="18" height="18"><use href="#chk"/></svg>
<div class="t" style="left:462.3px;top:418px;"><i style="width:21px"><b style="transform:scaleX(0.858)">BOG</b></i><i style="margin-left:3px;width:47px"><b style="transform:scaleX(0.926)">Publishing</b></i></div>
<div class="t" style="left:1382.5px;top:418px;"><i style="width:27.5px"><b style="transform:scaleX(0.998)">31,25</b></i><i style="margin-left:3px;width:11px"><b style="transform:scaleX(1.125)">%</b></i></div>
<div class="t" style="left:1475.5px;top:418px;"><i style="width:27.5px"><b style="transform:scaleX(0.998)">31,25</b></i><i style="margin-left:3px;width:11px"><b style="transform:scaleX(1.125)">%</b></i></div>
<div class="fb" style="left:1338px;width:93px"></div>
<div class="t" style="left:1388.5px;top:457px;"><i style="width:33.5px"><b style="transform:scaleX(0.994)">100,00</b></i></div>
<div class="fb" style="left:1432px;width:92px"></div>
<div class="t" style="left:1481.5px;top:457px;"><i style="width:33.5px"><b style="transform:scaleX(0.994)">100,00</b></i></div>
<div class="fb" style="left:1525px;width:93px"></div>
<div class="t" style="left:1587.5px;top:457px;"><i style="width:21.5px"><b style="transform:scaleX(1.003)">0,00</b></i></div>
<div class="fb" style="left:1619px;width:92px"></div>
<div class="t" style="left:1680.5px;top:457px;"><i style="width:21.5px"><b style="transform:scaleX(1.003)">0,00</b></i></div>
<div class="fb" style="left:1712px;width:93px"></div>
<div class="t" style="left:1774.5px;top:457px;"><i style="width:21.5px"><b style="transform:scaleX(1.003)">0,00</b></i></div>
<div class="fb" style="left:1806px;width:92px"></div>
<div class="t" style="left:1867.5px;top:457px;"><i style="width:21.5px"><b style="transform:scaleX(1.003)">0,00</b></i></div>
<div class="fb" style="left:1899px;width:93px"></div>
<div class="t" style="left:1961.5px;top:457px;"><i style="width:21.5px"><b style="transform:scaleX(1.003)">0,00</b></i></div>
<div class="fb" style="left:1993px;width:92px"></div>
<div class="t" style="left:2054.5px;top:457px;"><i style="width:21.5px"><b style="transform:scaleX(1.003)">0,00</b></i></div>
<div class="fb" style="left:2086px;width:93px"></div>
<div class="t" style="left:2149.5px;top:457px;"><i style="width:21.5px"><b style="transform:scaleX(1.003)">0,00</b></i></div>
<div style="left:48px;top:640px;width:362px;height:28px;background:#fff;"></div>
<div class="t" style="left:54.5px;top:648px;"><i style="width:12px"><b style="transform:scaleX(0.980)">18</b></i></div>
<svg style="left:80px;top:646px" width="16" height="16"><use href="#trash"/></svg>
<svg style="left:112px;top:646px" width="16" height="16"><use href="#pencil"/></svg>
<svg style="left:144px;top:646px" width="16" height="16"><use href="#refresh"/></svg>
<svg style="left:176px;top:646px" width="16" height="16"><use href="#plus"/></svg>
<svg style="left:208px;top:646px" width="16" height="16"><use href="#minus"/></svg>
<svg style="left:240px;top:646px" width="16" height="16"><use href="#funnel"/></svg>
<svg style="left:271.5px;top:646px" width="17" height="16"><use href="#note"/></svg>
<svg style="left:304px;top:646px" width="16" height="16"><use href="#save"/></svg>
<svg style="left:336px;top:646px" width="16" height="16"><use href="#lr"/></svg>
<svg style="left:2185px;top:143px" width="9" height="6"><path d="M4.5 0.2L8.6 5.9H0.4Z" fill="#9c9c9c"/></svg>
<div style="left:2186px;top:155px;width:7px;height:156px;border-radius:3.5px;background:#9a9a9a"></div>
<svg style="left:2185px;top:629px" width="9" height="6"><path d="M0.4 0.1H8.6L4.5 5.8Z" fill="#9c9c9c"/></svg>
<div style="left:2204px;top:398px;width:2px;height:2px;background:#a2a2a2;"></div>
<div style="left:2208px;top:398px;width:2px;height:2px;background:#a2a2a2;"></div>
<div style="left:2204px;top:402px;width:2px;height:2px;background:#a2a2a2;"></div>
<div style="left:2208px;top:402px;width:2px;height:2px;background:#a2a2a2;"></div>
<div style="left:2204px;top:406px;width:2px;height:2px;background:#a2a2a2;"></div>
<div style="left:2208px;top:406px;width:2px;height:2px;background:#a2a2a2;"></div>
<div style="left:2211px;top:133px;width:324px;height:1px;background:#d2d2d2;"></div>
<div style="left:2211px;top:646px;width:324px;height:1px;background:#d2d2d2;"></div>
<div style="left:2211px;top:133px;width:1px;height:514px;background:#d2d2d2;"></div>
<div style="left:2534px;top:133px;width:1px;height:514px;background:#d2d2d2;"></div>
<div style="left:2226px;top:149px;width:293px;height:457px;border:1px solid #dedede"></div>
<div style="left:2227px;top:150px;width:291px;height:27px;background:#f3f3f3;"></div>
<div style="left:2227px;top:177px;width:291px;height:27px;background:#fff;"></div>
<div style="left:2227px;top:204px;width:291px;height:27px;background:#f3f3f3;"></div>
<div style="left:2227px;top:231px;width:291px;height:27px;background:#fff;"></div>
<div style="left:2227px;top:258px;width:291px;height:27px;background:#f3f3f3;"></div>
<div style="left:2227px;top:285px;width:291px;height:27px;background:#fff;"></div>
<div style="left:2227px;top:312px;width:291px;height:27px;background:#f3f3f3;"></div>
<div style="left:2227px;top:339px;width:291px;height:27px;background:#fff;"></div>
<div style="left:2227px;top:366px;width:291px;height:211px;background:#fff;"></div>
<div style="left:2411px;top:177px;width:107px;height:27px;background:#e5e5e5;"></div>
<div style="left:2227px;top:577px;width:115px;height:28px;background:#fff;"></div>
<div style="left:2342px;top:577px;width:176px;height:28px;background:#f3f3f3;"></div>
<div class="t" style="left:2250px;top:158px;"><i style="width:21px"><b style="transform:scaleX(0.858)">BOG</b></i><i style="margin-left:3px;width:47px"><b style="transform:scaleX(0.926)">Publishing</b></i></div>
<div class="t" style="left:2422.7px;top:158px;"><i style="width:6px"><b style="transform:scaleX(0.817)">E</b></i></div>
<div class="t" style="left:2448px;top:158px;"><i style="width:39px"><b style="transform:scaleX(0.898)">MEXICO</b></i></div>
<div class="t" style="left:2266px;top:185px;"><i style="width:48px"><b style="transform:scaleX(0.872)">LAMBORG</b></i><i style="margin-left:3px;width:37px"><b style="transform:scaleX(0.903)">BENOIT</b></i></div>
<div class="t" style="left:2418.7px;top:185px;"><i style="width:14px"><b style="transform:scaleX(0.916)">CA</b></i></div>
<div class="t" style="left:2448px;top:185px;"><i style="width:39px"><b style="transform:scaleX(0.898)">MEXICO</b></i></div>
<div class="t" style="left:2266px;top:212px;"><i style="width:44px"><b style="transform:scaleX(0.915)">VINYARD</b></i><i style="margin-left:3px;width:45px"><b style="transform:scaleX(0.924)">MATHIEU</b></i></div>
<div class="t" style="left:2422.2px;top:212px;"><i style="width:7px"><b style="transform:scaleX(0.882)">C</b></i></div>
<div class="t" style="left:2448px;top:212px;"><i style="width:39px"><b style="transform:scaleX(0.898)">MEXICO</b></i></div>
<div class="t" style="left:2251px;top:239px;font-weight:700;"><i style="width:23px"><b style="transform:scaleX(0.918)">BOG</b></i><i style="margin-left:3px;width:57px"><b style="transform:scaleX(1.013)">Publishing</b></i></div>
<div class="t" style="left:2419.5px;top:239px;font-weight:700;"><i style="width:14px"><b style="transform:scaleX(0.953)">SE</b></i></div>
<div class="t" style="left:2449px;top:239px;font-weight:700;"><i style="width:44px"><b style="transform:scaleX(1.014)">MEXICO</b></i></div>
<div class="t" style="left:2266px;top:266px;"><i style="width:21px"><b style="transform:scaleX(0.838)">SGM</b></i></div>
<div class="t" style="left:2422.7px;top:266px;"><i style="width:6px"><b style="transform:scaleX(0.817)">E</b></i></div>
<div class="t" style="left:2448px;top:266px;"><i style="width:39px"><b style="transform:scaleX(0.898)">MEXICO</b></i></div>
<div class="t" style="left:2282px;top:293px;"><i style="width:43px"><b style="transform:scaleX(0.891)">TINCKER</b></i><i style="margin-left:3px;width:29px"><b style="transform:scaleX(0.912)">ARIEL</b></i></div>
<div class="t" style="left:2422.2px;top:293px;"><i style="width:7px"><b style="transform:scaleX(0.953)">A</b></i></div>
<div class="t" style="left:2448px;top:293px;"><i style="width:39px"><b style="transform:scaleX(0.898)">MEXICO</b></i></div>
<div class="t" style="left:2282px;top:320px;"><i style="width:36px"><b style="transform:scaleX(0.891)">LALALA</b></i><i style="margin-left:3px;width:54px"><b style="transform:scaleX(0.924)">JONATHAN</b></i></div>
<div class="t" style="left:2422.2px;top:320px;"><i style="width:7px"><b style="transform:scaleX(0.953)">A</b></i></div>
<div class="t" style="left:2448px;top:320px;"><i style="width:39px"><b style="transform:scaleX(0.898)">MEXICO</b></i></div>
<div class="t" style="left:2282px;top:347px;"><i style="width:41px"><b style="transform:scaleX(0.882)">JENKINS</b></i><i style="margin-left:3px;width:31px"><b style="transform:scaleX(0.906)">CINDY</b></i></div>
<div class="t" style="left:2422.2px;top:347px;"><i style="width:7px"><b style="transform:scaleX(0.953)">A</b></i></div>
<div class="t" style="left:2448px;top:347px;"><i style="width:39px"><b style="transform:scaleX(0.898)">MEXICO</b></i></div>
<div style="left:2236px;top:162px;width:1px;height:82px;background:repeating-linear-gradient(to bottom,#cfcfcf 0 1px,transparent 1px 2px)"></div>
<div style="left:2236px;top:162px;width:8px;height:1px;background:repeating-linear-gradient(to right,#cfcfcf 0 1px,transparent 1px 2px)"></div>
<div style="left:2236px;top:243px;width:8px;height:1px;background:repeating-linear-gradient(to right,#cfcfcf 0 1px,transparent 1px 2px)"></div>
<div style="left:2252px;top:177px;width:1px;height:40px;background:repeating-linear-gradient(to bottom,#cfcfcf 0 1px,transparent 1px 2px)"></div>
<div style="left:2252px;top:189px;width:8px;height:1px;background:repeating-linear-gradient(to right,#cfcfcf 0 1px,transparent 1px 2px)"></div>
<div style="left:2252px;top:216px;width:8px;height:1px;background:repeating-linear-gradient(to right,#cfcfcf 0 1px,transparent 1px 2px)"></div>
<div style="left:2252px;top:258px;width:1px;height:13px;background:repeating-linear-gradient(to bottom,#cfcfcf 0 1px,transparent 1px 2px)"></div>
<div style="left:2252px;top:270px;width:8px;height:1px;background:repeating-linear-gradient(to right,#cfcfcf 0 1px,transparent 1px 2px)"></div>
<div style="left:2268px;top:285px;width:1px;height:67px;background:repeating-linear-gradient(to bottom,#cfcfcf 0 1px,transparent 1px 2px)"></div>
<div style="left:2268px;top:297px;width:8px;height:1px;background:repeating-linear-gradient(to right,#cfcfcf 0 1px,transparent 1px 2px)"></div>
<div style="left:2268px;top:324px;width:8px;height:1px;background:repeating-linear-gradient(to right,#cfcfcf 0 1px,transparent 1px 2px)"></div>
<div style="left:2268px;top:351px;width:8px;height:1px;background:repeating-linear-gradient(to right,#cfcfcf 0 1px,transparent 1px 2px)"></div>
<svg style="left:2236px;top:582.7px" width="16" height="16"><use href="#refresh"/></svg>
<svg style="left:2268px;top:583px" width="16" height="16"><use href="#folder"/></svg>
<div class="t" style="left:2226px;top:613px;"><i style="width:24px"><b style="transform:scaleX(0.958)">Third</b></i><i style="margin-left:3px;width:26px"><b style="transform:scaleX(1.063)">party</b></i></div>
<div style="left:2284px;top:606px;width:235px;height:25px;background:#fff;border:1px solid #e6e6e6;border-bottom:2px solid #005fb8;border-radius:4px"></div>
<div style="left:2290px;top:612px;width:22px;height:13px;background:#0078d7;"></div>
<div class="t" style="left:2290.5px;top:613px;color:#fff;"><i style="width:21px"><b style="transform:scaleX(0.838)">BMG</b></i></div>
<svg style="left:2500px;top:615.3px" width="9.6" height="5.8"><use href="#chev"/></svg>
<div style="left:2221px;top:647px;width:72px;height:26px;border:1px solid #d6d6d6;border-top:none;border-radius:0 0 5px 5px;background:#f3f3f3"></div>
<div style="left:2292px;top:647px;width:128px;height:24px;border:1px solid #d6d6d6;border-top:none;border-radius:0 0 5px 5px;background:#f3f3f3"></div>
<div class="t" style="left:2232.8px;top:654px;"><i style="width:46px"><b style="transform:scaleX(0.977)">Hierarchy</b></i></div>
<div class="t" style="left:2297px;top:652px;"><i style="width:29px"><b style="transform:scaleX(0.930)">Check</b></i><i style="margin-left:3px;width:32px"><b style="transform:scaleX(1.025)">before</b></i><i style="margin-left:3px;width:46px"><b style="transform:scaleX(1.016)">exporting</b></i></div>
<div style="left:2224px;top:136px;width:319px;height:510px;border:3px solid #fe0000;border-radius:2px;filter:drop-shadow(2px 2px 2.2px rgba(20,45,45,.72))"></div>
<div style="left:2223px;top:135px;width:318px;height:509px;border-left:1px solid #ecf6f6;border-top:1px solid #ecf6f6;border-radius:3px 0 0 0"></div>
<div style="left:2539px;top:142px;width:1px;height:501px;background:#ebf6f6;"></div>
<div style="left:2230px;top:642px;width:310px;height:1px;background:#ebf6f6;"></div>
</body></html>
